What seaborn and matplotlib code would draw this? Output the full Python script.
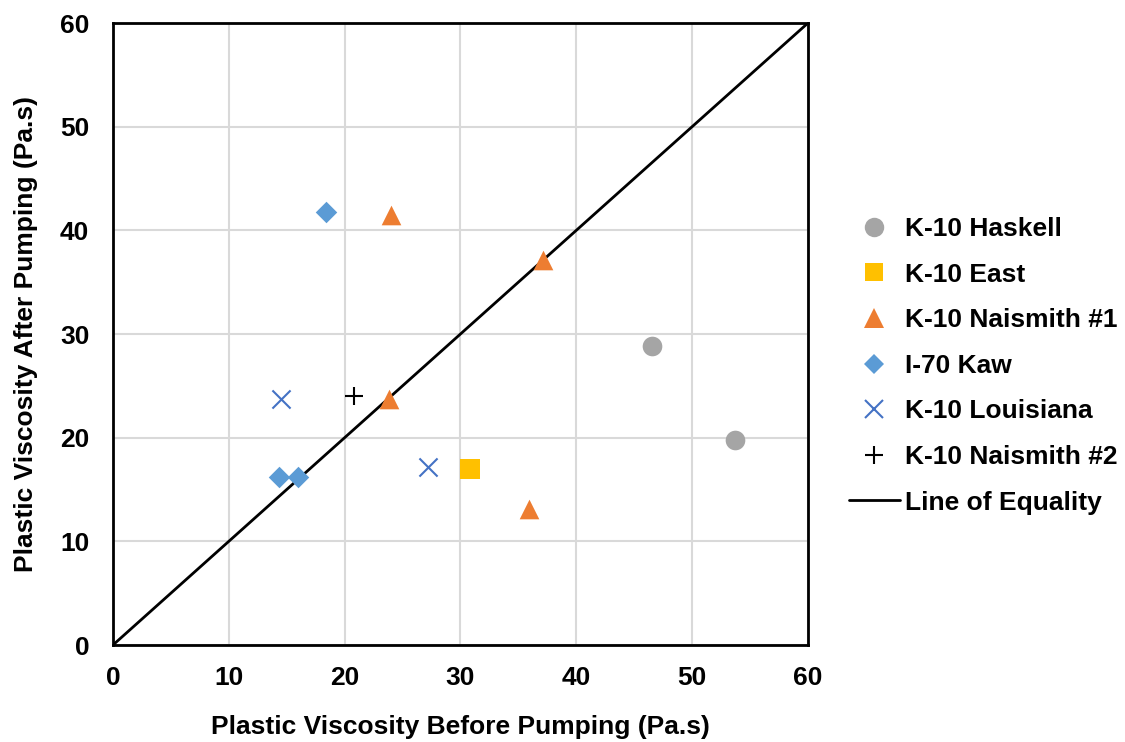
import matplotlib
matplotlib.use("Agg")
import matplotlib.pyplot as plt
from matplotlib.lines import Line2D
import seaborn as sns
import pandas as pd

# Plastic viscosity (Pa.s) before and after pumping, per project site
sites = ["K-10 Haskell", "K-10 East", "K-10 Naismith #1", "I-70 Kaw",
         "K-10 Louisiana", "K-10 Naismith #2"]

haskell_before = [46.5, 53.7]
haskell_after = [28.8, 19.8]
east_before = [30.8]
east_after = [17.0]
naismith1_before = [24.0, 37.1, 23.8, 35.9]
naismith1_after = [41.5, 37.1, 23.7, 13.1]
kaw_before = [18.4, 14.3, 16.0]
kaw_after = [41.8, 16.2, 16.2]
louisiana_before = [14.5, 27.2]
louisiana_after = [23.7, 17.2]
naismith2_before = [20.8]
naismith2_after = [24.0]

equality_x = [0, 60]
equality_y = [0, 60]
ticks = [0, 10, 20, 30, 40, 50, 60]

befores = [haskell_before, east_before, naismith1_before, kaw_before,
           louisiana_before, naismith2_before]
afters = [haskell_after, east_after, naismith1_after, kaw_after,
          louisiana_after, naismith2_after]

rows = []
for site, xs, ys in zip(sites, befores, afters):
    for xv, yv in zip(xs, ys):
        rows.append({"site": site, "before": xv, "after": yv})
df = pd.DataFrame(rows)

colors = {"K-10 Haskell": "#A5A5A5", "K-10 East": "#FFC000",
          "K-10 Naismith #1": "#ED7D31", "I-70 Kaw": "#5B9BD5",
          "K-10 Louisiana": "#4472C4", "K-10 Naismith #2": "#000000"}
markers = {"K-10 Haskell": "o", "K-10 East": "s", "K-10 Naismith #1": "^",
           "I-70 Kaw": "D", "K-10 Louisiana": "x", "K-10 Naismith #2": "+"}
sizes = {"K-10 Haskell": 200, "K-10 East": 190, "K-10 Naismith #1": 200,
         "I-70 Kaw": 120, "K-10 Louisiana": 170, "K-10 Naismith #2": 150}

sns.set_theme(style="white")
plt.rcParams["font.family"] = ["Liberation Sans", "DejaVu Sans"]
plt.rcParams["font.weight"] = "bold"
for key in ("text.color", "axes.labelcolor", "xtick.color", "ytick.color"):
    plt.rcParams[key] = "black"

FS = 19

fig = plt.figure(figsize=(11.25, 7.42), dpi=100)
ax = fig.add_axes([0.1004, 0.1307, 0.6178, 0.8383])

sns.lineplot(x=equality_x, y=equality_y, color="black", linewidth=2.0,
             ax=ax, zorder=2)

for site in sites:
    sub = df[df["site"] == site]
    m = markers[site]
    lw = 1.5 if m in ("x", "+") else 0
    sns.scatterplot(data=sub, x="before", y="after", marker=m,
                    color=colors[site], s=sizes[site], linewidth=lw,
                    edgecolor=colors[site] if lw == 0 else None,
                    ax=ax, zorder=3, legend=False)

ax.set_xlim(0, 60)
ax.set_ylim(0, 60)
ax.set_xticks(ticks)
ax.set_yticks(ticks)
ax.grid(True, color="#D9D9D9", linewidth=1.5, zorder=0)
ax.set_axisbelow(True)
for sp in ax.spines.values():
    sp.set_color("black")
    sp.set_linewidth(2.0)
ax.tick_params(axis="x", labelsize=FS, length=0, pad=15)
ax.tick_params(axis="y", labelsize=FS, length=0, pad=17)
for lab in ax.get_xticklabels() + ax.get_yticklabels():
    lab.set_fontweight("bold")
ax.set_xlabel("Plastic Viscosity Before Pumping (Pa.s)", fontsize=FS,
              fontweight="bold", labelpad=18)
ax.set_ylabel("Plastic Viscosity After Pumping (Pa.s)", fontsize=FS,
              fontweight="bold", labelpad=16)

handles = []
for site in sites:
    m = markers[site]
    lw = 1.5 if m in ("x", "+") else 0
    ms = {"o": 14, "s": 13, "^": 14, "D": 10, "x": 13, "+": 13}[m]
    handles.append(Line2D([], [], linestyle="none", marker=m, markersize=ms,
                          color=colors[site], markeredgewidth=lw if lw else 0))
handles.append(Line2D([], [], color="black", linewidth=2.0))
labels = sites + ["Line of Equality"]

leg = fig.legend(handles, labels, loc="center left",
                 bbox_to_anchor=(0.745, 0.507), frameon=False,
                 prop={"size": FS, "weight": "bold"}, labelspacing=0.82,
                 handlelength=1.95, handletextpad=0.2, borderaxespad=0)

fig.savefig("out.png", dpi=100)
